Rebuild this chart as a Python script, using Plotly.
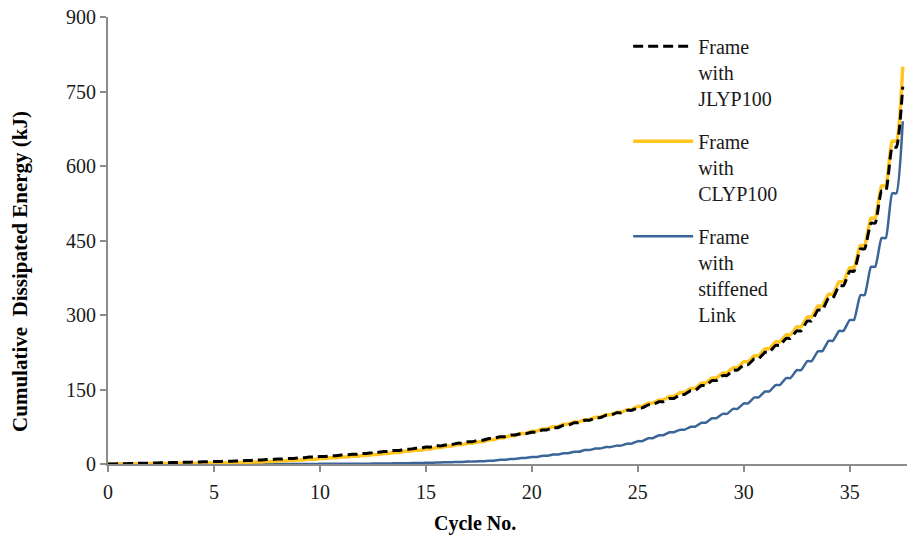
import plotly.graph_objects as go

# Half-cycle positions (cycle number)
cycles = [i / 2 for i in range(76)]

# Cumulative dissipated energy (kJ) at each half cycle
energy_jlyp100 = [
    0, 0.5, 1, 1.5, 2, 2.5, 3, 3.5, 4, 4.5,
    5, 5.5, 6, 7, 8, 9, 10, 11, 12.5, 14,
    15, 16.5, 18, 19.5, 21, 23, 25, 27, 29.5, 31.5,
    34, 36.5, 39, 42, 45, 48, 51.5, 55, 58.5, 61,
    64, 68.5, 73, 78, 83, 88, 93, 98, 103, 108,
    113, 119, 125.5, 132, 140, 148, 158, 168, 178, 189,
    200, 212, 225, 239, 253, 268, 288, 310, 334, 359,
    388, 433, 485, 550, 638, 760,
]
energy_clyp100 = [
    0, 0.2, 0.4, 0.6, 0.8, 1.0, 1.2, 1.4, 1.6, 1.8,
    2.1, 2.5, 3.0, 3.6, 4.2, 5.0, 6.0, 7.0, 8.2, 9.5,
    11, 12.5, 14, 15.5, 17, 19, 21, 23, 25.5, 27.5,
    30, 33, 36, 39, 42, 45, 49, 53, 57, 61.5,
    66, 70.5, 75, 80, 84.5, 89, 94, 99, 104, 109.5,
    116, 122.5, 129, 136, 144, 152, 163, 173, 183, 194,
    206, 218, 232, 246, 260, 276, 296, 318, 342, 367,
    395, 440, 495, 560, 650, 800,
]
energy_stiffened = [
    0, 0, 0, 0, 0, 0, 0, 0, 0, 0,
    0, 0, 0, 0, 0, 0, 0.1, 0.1, 0.2, 0.2,
    0.3, 0.3, 0.4, 0.4, 0.5, 0.8, 1.0, 1.3, 1.6, 2.0,
    2.5, 3.0, 3.6, 4.2, 4.8, 5.5, 6.5, 8.5, 10, 12,
    14, 16.5, 19, 21.5, 24.5, 28, 31, 34, 37, 41,
    46, 52, 58, 64, 69, 75, 83, 92, 101, 111,
    122, 134, 146, 159, 173, 189, 207, 227, 248, 268,
    290, 340, 397, 455, 545, 690,
]

series_names = [
    "Frame<br>with<br>JLYP100",
    "Frame<br>with<br>CLYP100",
    "Frame<br>with<br>stiffened<br>Link",
]

x_ticks = [0, 5, 10, 15, 20, 25, 30, 35]
y_ticks = [0, 150, 300, 450, 600, 750, 900]

FONT = "Liberation Serif"
TEXT = "#1a1a1a"
AXIS_GREY = "#8c8c8c"


def staircase(xs, ys, hold=0.2):
    """Each half cycle: energy holds, then climbs to the recorded total."""
    px, py = [xs[0]], [ys[0]]
    for i in range(1, len(xs)):
        px.append(xs[i - 1] + hold)
        py.append(ys[i - 1])
        px.append(xs[i])
        py.append(ys[i])
    return px, py


fig = go.Figure()

sx, sy = staircase(cycles, energy_stiffened)
fig.add_trace(go.Scatter(
    x=sx, y=sy, mode="lines", name=series_names[2],
    line=dict(color="#3b6497", width=2.5, shape="spline", smoothing=0.5),
    legendrank=3, legendgroup="c",
))
cx, cy = staircase(cycles, energy_clyp100)
fig.add_trace(go.Scatter(
    x=cx, y=cy, mode="lines", name=series_names[1],
    line=dict(color="#ffc520", width=3.5, shape="spline", smoothing=0.5),
    legendrank=2, legendgroup="b",
))
jx, jy = staircase(cycles, energy_jlyp100)
fig.add_trace(go.Scatter(
    x=jx, y=jy, mode="lines", name=series_names[0],
    line=dict(color="#000000", width=3, dash="10px,5px",
              shape="spline", smoothing=0.5),
    legendrank=1, legendgroup="a",
))

fig.update_layout(
    width=907, height=540,
    margin=dict(l=108, r=0, t=17, b=76),
    paper_bgcolor="white", plot_bgcolor="white",
    font=dict(family=FONT, size=20, color=TEXT),
    showlegend=True,
    legend=dict(
        x=0.651, y=0.978, xanchor="left", yanchor="top",
        bgcolor="rgba(0,0,0,0)", valign="top",
        font=dict(family=FONT, size=20, color=TEXT),
        tracegroupgap=14, itemwidth=60,
    ),
    xaxis=dict(
        range=[0, 37.7], tickvals=x_ticks, ticks="outside", ticklen=6,
        tickcolor=AXIS_GREY, tickwidth=1.5, showline=True, linecolor=AXIS_GREY,
        linewidth=2, showgrid=False, zeroline=False, ticklabelstandoff=3,
        tickfont=dict(family=FONT, size=20, color=TEXT),
    ),
    yaxis=dict(
        range=[0, 900], tickvals=y_ticks, ticks="outside", ticklen=6,
        tickcolor=AXIS_GREY, tickwidth=1.5, showline=True, linecolor=AXIS_GREY,
        linewidth=2, showgrid=False, zeroline=False,
        tickfont=dict(family=FONT, size=20, color=TEXT),
    ),
    annotations=[
        dict(text="<b>Cycle No.</b>", xref="paper", yref="paper",
             x=0.459, y=-0.132, xanchor="center", yanchor="middle",
             showarrow=False, font=dict(family=FONT, size=20, color="#000000")),
        dict(text="<b>Cumulative\u00a0 Dissipated Energy (kJ)</b>",
             xref="paper", yref="paper", x=-0.11, y=0.43,
             xanchor="center", yanchor="middle", textangle=-90,
             showarrow=False, font=dict(family=FONT, size=21, color="#000000")),
    ],
)

fig.write_html("out.html")
